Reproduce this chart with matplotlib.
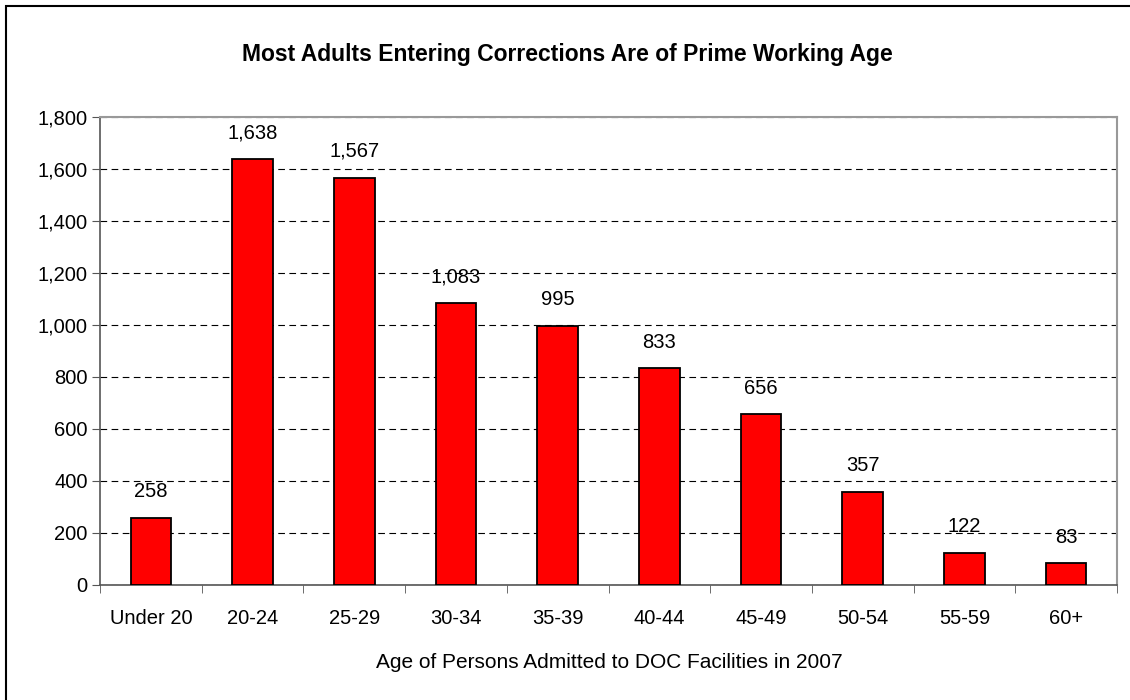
import matplotlib
matplotlib.use("Agg")
import matplotlib.pyplot as plt
from matplotlib.patches import Rectangle
from matplotlib.ticker import FuncFormatter, MultipleLocator

# ── Data ──────────────────────────────────────────────────────────────────────
age_groups = ["Under 20", "20-24", "25-29", "30-34", "35-39",
              "40-44", "45-49", "50-54", "55-59", "60+"]
admissions = [258, 1638, 1567, 1083, 995, 833, 656, 357, 122, 83]

title = "Most Adults Entering Corrections Are of Prime Working Age"
xlabel = "Age of Persons Admitted to DOC Facilities in 2007"

plt.rcParams["font.family"] = ["Liberation Sans", "DejaVu Sans"]
FS = 14.5

fig = plt.figure(figsize=(11.3, 7), dpi=100)
ax = fig.add_axes([0.0885, 0.1643, 0.9, 0.6686])

# outer chart border (right/bottom run off the image)
fig.patches.append(Rectangle((6 / 1130, -0.05), 1.2, 1 - 6 / 700 + 0.05,
                             transform=fig.transFigure, fill=False,
                             edgecolor="black", linewidth=1.5))

x = list(range(len(age_groups)))
ax.bar(x, admissions, width=0.4, color="#FF0000", edgecolor="black",
       linewidth=1.3, zorder=3)

for xi, v in zip(x, admissions):
    ax.annotate(f"{v:,}", (xi, v), xytext=(0, 19), textcoords="offset points",
                ha="center", va="center", fontsize=FS)

ax.set_xlim(-0.5, len(age_groups) - 0.5)
ax.set_ylim(0, 1800)
ax.yaxis.set_major_locator(MultipleLocator(200))
ax.yaxis.set_major_formatter(FuncFormatter(lambda v, p: f"{int(v):,}"))
ax.grid(axis="y", linestyle=(0, (6, 4)), color="black", linewidth=0.8, zorder=0)

ax.set_xticks(x)
ax.set_xticklabels(age_groups, fontsize=FS)
ax.set_xticks([i - 0.5 for i in range(len(age_groups) + 1)], minor=True)
ax.tick_params(axis="x", which="major", length=0, pad=17)
ax.tick_params(axis="x", which="minor", length=6, direction="out", color="#555555")
ax.tick_params(axis="y", length=6, direction="out", color="#555555", labelsize=FS, pad=3)

for s in ["top", "right"]:
    ax.spines[s].set_color("#999999")
    ax.spines[s].set_linewidth(1.5)
for s in ["left", "bottom"]:
    ax.spines[s].set_color("#555555")
    ax.spines[s].set_linewidth(1.2)

fig.text(0.502, 1 - 55 / 700, title, ha="center", va="center",
         fontsize=16.5, fontweight="bold")
fig.text(0.539, 1 - 662 / 700, xlabel, ha="center", va="center", fontsize=15)

fig.savefig("out.png", dpi=100)
